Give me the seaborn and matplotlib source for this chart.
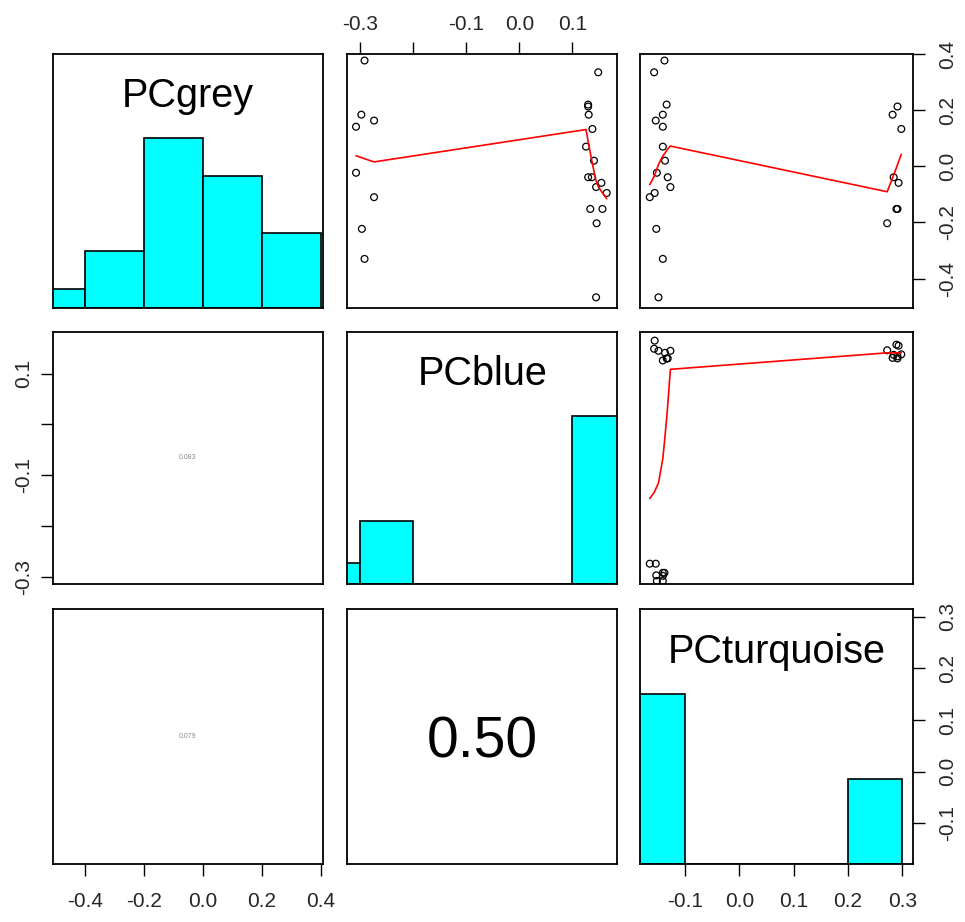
import numpy as np
import pandas as pd
import matplotlib
matplotlib.use("Agg")
import matplotlib.pyplot as plt
import seaborn as sns

# ---------------- data ----------------
variables = ["PCgrey", "PCblue", "PCturquoise"]

pc_grey = [0.377, 0.184, 0.141, 0.163, -0.023, -0.110, -0.223, -0.330,
           0.335, 0.220, 0.213, 0.184, 0.133, 0.070, 0.020, -0.039,
           -0.039, -0.059, -0.074, -0.095, -0.152, -0.152, -0.203, -0.467]
pc_blue = [-0.292, -0.298, -0.308, -0.274, -0.308, -0.274, -0.297, -0.292,
           0.149, 0.130, 0.130, 0.131, 0.138, 0.126, 0.141, 0.130,
           0.137, 0.155, 0.145, 0.165, 0.134, 0.157, 0.146, 0.145]
pc_turquoise = [-0.138, -0.141, -0.141, -0.154, -0.152, -0.165, -0.153, -0.141,
                -0.157, -0.134, 0.291, 0.282, 0.298, -0.141, -0.137, -0.132,
                0.284, 0.293, -0.127, -0.156, 0.291, 0.289, 0.272, -0.149]

hist_breaks = {
    "PCgrey": [-0.6, -0.4, -0.2, 0.0, 0.2, 0.4],
    "PCblue": [-0.4, -0.3, -0.2, -0.1, 0.0, 0.1, 0.2],
    "PCturquoise": [-0.2, -0.1, 0.0, 0.1, 0.2, 0.3],
}

# correlation labels shown in lower panels (row, col) -> text
cor_text = {(1, 0): "0.083", (2, 0): "0.079", (2, 1): "0.50"}

tick_values = {
    "PCgrey": [-0.4, -0.2, 0.0, 0.2, 0.4],
    "PCblue": [-0.3, -0.2, -0.1, 0.0, 0.1],
    "PCturquoise": [-0.1, 0.0, 0.1, 0.2, 0.3],
}
tick_labels = {
    "PCgrey": ["-0.4", "-0.2", "0.0", "0.2", "0.4"],
    "PCblue_top": ["-0.3", "", "-0.1", "0.0", "0.1"],
    "PCblue_left": ["-0.3", "", "-0.1", "", "0.1"],
    "PCturquoise": ["-0.1", "0.0", "0.1", "0.2", "0.3"],
}

df = pd.DataFrame({"PCgrey": pc_grey, "PCblue": pc_blue, "PCturquoise": pc_turquoise})

# ---------------- style / layout ----------------
sns.set_style("white")
plt.rcParams["font.family"] = ["Liberation Sans", "DejaVu Sans"]

W, H = 965, 922
fig = plt.figure(figsize=(W / 100, H / 100), dpi=100)

cols = [(52.7, 323.3), (347.3, 617.3), (640.0, 912.7)]
rows = [(53.5, 308.0), (332.0, 583.5), (609.0, 864.0)]

xlims = {"PCgrey": (-0.510, 0.408), "PCblue": (-0.3245, 0.185), "PCturquoise": (-0.183, 0.319)}
ylims = {"PCgrey": (-0.505, 0.402), "PCblue": (-0.313, 0.182), "PCturquoise": (-0.179, 0.315)}


def rect(i, j):
    x0, x1 = cols[j]
    y0, y1 = rows[i]
    return [x0 / W, 1 - y1 / H, (x1 - x0) / W, (y1 - y0) / H]


def lowess(x, y, f=2 / 3, iters=3):
    order = np.argsort(x, kind="mergesort")
    x = np.asarray(x, float)[order]
    y = np.asarray(y, float)[order]
    n = len(x)
    ns = max(2, min(n, int(f * n + 1e-7)))
    delta = 0.01 * (x[-1] - x[0])
    rw = np.ones(n)
    ys = np.zeros(n)
    rng = x[-1] - x[0]

    def lowest(xs, nleft, nright, userw):
        w = np.zeros(n)
        h = max(xs - x[nleft], x[nright] - xs)
        h9, h1 = 0.999 * h, 0.001 * h
        a = 0.0
        j = nleft
        while j < n:
            r = abs(x[j] - xs)
            if r <= h9:
                w[j] = 1.0 if r <= h1 else (1 - (r / h) ** 3) ** 3
                if userw:
                    w[j] *= rw[j]
                a += w[j]
            elif x[j] > xs:
                break
            j += 1
        nrt = j - 1
        if a <= 0:
            return None
        sl = slice(nleft, nrt + 1)
        w[sl] /= a
        if h > 0:
            a2 = np.sum(w[sl] * x[sl])
            b = xs - a2
            c = np.sum(w[sl] * (x[sl] - a2) ** 2)
            if np.sqrt(c) > 0.001 * rng:
                b /= c
                w[sl] *= (b * (x[sl] - a2) + 1)
        return np.sum(w[sl] * y[sl])

    it = 1
    while it <= iters + 1:
        nleft, nright, last, i = 0, ns - 1, -1, 0
        while True:
            if nright < n - 1:
                d1 = x[i] - x[nleft]
                d2 = x[nright + 1] - x[i]
                if d1 > d2:
                    nleft += 1
                    nright += 1
                    continue
            v = lowest(x[i], nleft, nright, it > 1)
            ys[i] = y[i] if v is None else v
            if last < i - 1:
                denom = x[i] - x[last]
                for j in range(last + 1, i):
                    alpha = (x[j] - x[last]) / denom
                    ys[j] = alpha * ys[i] + (1 - alpha) * ys[last]
            last = i
            cut = x[last] + delta
            i = last + 1
            while i < n:
                if x[i] > cut:
                    break
                if x[i] == x[last]:
                    ys[i] = ys[last]
                    last = i
                i += 1
            i = max(last + 1, i - 1)
            if last >= n - 1:
                break
        res = y - ys
        if it > iters:
            break
        ares = np.abs(res)
        cmad = 6 * np.median(ares)
        if cmad < 1e-7 * np.mean(ares):
            break
        c9, c1 = 0.999 * cmad, 0.001 * cmad
        rw = np.where(ares <= c1, 1.0,
                      np.where(ares <= c9, (1 - (ares / cmad) ** 2) ** 2, 0.0))
        it += 1
    return x, ys


TICK_FS = 15
tick_kw = dict(length=8.4, width=1.0, color="black", labelsize=TICK_FS)

for i, vy in enumerate(variables):
    for j, vx in enumerate(variables):
        ax = fig.add_axes(rect(i, j))
        ax.set_xlim(*xlims[vx])
        ax.set_ylim(*ylims[vy])
        ax.set_facecolor("none")
        ax.set_zorder(3)
        for s in ax.spines.values():
            s.set_visible(True)
            s.set_color("black")
            s.set_linewidth(1.3)

        if i == j:
            hax = fig.add_axes(rect(i, j))
            hax.set_zorder(1)
            hax.set_xlim(*xlims[vx])
            counts, _ = np.histogram(df[vx], bins=hist_breaks[vx])
            sns.histplot(x=df[vx], bins=hist_breaks[vx], stat="count", ax=hax,
                         color="#00FFFF", edgecolor="black", linewidth=1.2, alpha=1.0)
            hax.set_xlim(*xlims[vx])
            hax.set_ylim(0, 1.5 * counts.max())
            hax.axis("off")
            ax.text(0.5, 0.833, vx, transform=ax.transAxes, ha="center", va="center",
                    fontsize=28.5, color="black")
        elif j > i:
            sns.scatterplot(x=df[vx], y=df[vy], ax=ax, marker="o", s=24,
                            facecolors="none", edgecolor="black", linewidth=0.9)
            lx, ly = lowess(df[vx].values, df[vy].values)
            sns.lineplot(x=lx, y=ly, ax=ax, color="red", linewidth=1.2,
                         sort=False, estimator=None)
        else:
            txt = cor_text[(i, j)]
            big = txt == "0.50"
            ax.text(0.5, 0.475 if big else 0.5, txt, transform=ax.transAxes,
                    ha="center", va="center",
                    fontsize=41 if big else 5, color="black" if big else "#8a8a8a")

        ax.set_xlabel("")
        ax.set_ylabel("")
        ax.set_xticks([])
        ax.set_yticks([])
        # axes as in R pairs
        if i == 0 and j == 1:
            ax.xaxis.tick_top()
            ax.set_xticks(tick_values["PCblue"])
            ax.set_xticklabels(tick_labels["PCblue_top"])
            ax.tick_params(axis="x", top=True, bottom=False, pad=5.3, **tick_kw)
        if i == 0 and j == 2:
            ax.yaxis.tick_right()
            ax.set_yticks(tick_values["PCgrey"])
            ax.set_yticklabels(tick_labels["PCgrey"], rotation=90, va="center")
            ax.tick_params(axis="y", right=True, left=False, pad=10, **tick_kw)
        if i == 1 and j == 0:
            ax.set_yticks(tick_values["PCblue"])
            ax.set_yticklabels(tick_labels["PCblue_left"], rotation=90, va="center")
            ax.tick_params(axis="y", left=True, right=False, pad=5.5, **tick_kw)
        if i == 2 and j == 0:
            ax.set_xticks(tick_values["PCgrey"])
            ax.set_xticklabels(tick_labels["PCgrey"])
            ax.tick_params(axis="x", bottom=True, pad=12, **tick_kw)
        if i == 2 and j == 2:
            ax.set_xticks(tick_values["PCturquoise"])
            ax.set_xticklabels(tick_labels["PCturquoise"])
            ax.tick_params(axis="x", bottom=True, pad=12, **tick_kw)
            ax.yaxis.tick_right()
            ax.set_yticks(tick_values["PCturquoise"])
            ax.set_yticklabels(tick_labels["PCturquoise"], rotation=90, va="center")
            ax.tick_params(axis="y", right=True, left=False, pad=10, **tick_kw)
        ax.set_xlim(*xlims[vx])
        ax.set_ylim(*ylims[vy])

fig.savefig("out.png", dpi=100, facecolor="white")
